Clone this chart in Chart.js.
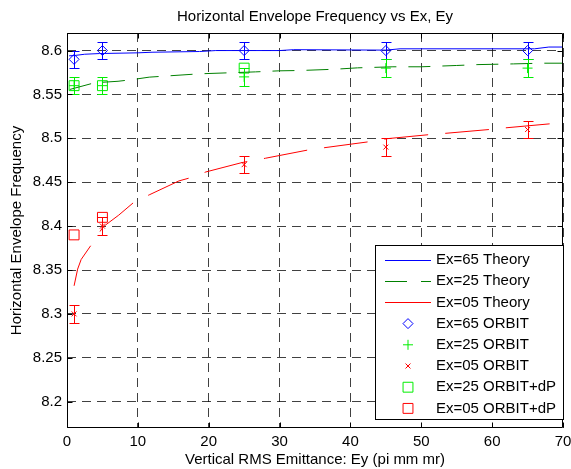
<!DOCTYPE html>
<html>
<head>
<meta charset="utf-8">
<script src="https://cdn.jsdelivr.net/npm/chart.js@4.4.1/dist/chart.umd.min.js"></script>
<style>
  html, body { margin: 0; padding: 0; background: #fff; }
  #wrap { width: 571px; height: 469px; }
</style>
</head>
<body>
<div id="wrap"><canvas id="myChart"></canvas></div>
<script>
// ORBIT runs
const eyOrbit = [1, 5, 25, 45, 65];
const orbit65 = [8.59, 8.60, 8.60, 8.60, 8.60];
const orbit25 = [8.56, 8.56, 8.57, 8.58, 8.58];
const orbit05 = [8.30, 8.40, 8.47, 8.49, 8.51];
const err65 = [0.01, 0.01, 0.01, 0.01, 0.01];
const err25 = [0.01, 0.01, 0.01, 0.01, 0.01];
const err05 = [0.01, 0.01, 0.01, 0.01, 0.01];

// ORBIT runs with momentum spread
const eyDp25 = [1, 5, 25];
const dp25 = [8.56, 8.56, 8.58];
const eyDp05 = [1, 5];
const dp05 = [8.39, 8.41];

// theory curves
const theory65X = [0.3, 1, 2.5, 4.6, 10, 12, 18.7, 21, 30, 32, 45, 47, 66, 68, 70];
const theory65Y = [8.594, 8.5943, 8.5958, 8.5966, 8.5974, 8.5981, 8.5989, 8.600, 8.600, 8.601, 8.6005, 8.602, 8.602, 8.604, 8.604];
const theory25X = [0.4, 3.9, 7.2, 9.3, 11.6, 18.7, 26.6, 29.9, 33, 38, 41, 46, 50, 55, 58, 63, 67, 70];
const theory25Y = [8.5557, 8.5633, 8.565, 8.567, 8.5697, 8.5735, 8.5757, 8.5769, 8.5773, 8.5788, 8.5803, 8.5815, 8.5815, 8.583, 8.584, 8.5848, 8.5856, 8.5856];
const theory05X = [1, 1.5, 2, 3.5, 5.1, 7.3, 9.5, 11.6, 15.8, 17.5, 19.6, 24.7, 28, 34, 36.4, 42.7, 45.3, 51.1, 53.4, 59.8, 62.1, 68.4];
const theory05Y = [8.332, 8.351, 8.362, 8.3795, 8.3992, 8.4125, 8.4276, 8.4356, 8.4515, 8.4553, 8.4617, 8.4724, 8.4773, 8.4867, 8.4894, 8.4962, 8.4997, 8.5042, 8.5057, 8.5102, 8.5121, 8.5167];

const xTicks = [0, 10, 20, 30, 40, 50, 60, 70];
const yTicks = [8.2, 8.25, 8.3, 8.35, 8.4, 8.45, 8.5, 8.55, 8.6];

const legendLabels = ['Ex=65 Theory', 'Ex=25 Theory', 'Ex=05 Theory', 'Ex=65 ORBIT', 'Ex=25 ORBIT', 'Ex=05 ORBIT', 'Ex=25 ORBIT+dP', 'Ex=05 ORBIT+dP'];

const pts = (xs, ys) => xs.map((x, i) => ({ x: x, y: ys[i] }));
const fontFamily = "'Liberation Sans', Arial, Helvetica, sans-serif";
const font15 = { family: fontFamily, size: 15, weight: 'normal' };

function lineSet(label, xs, ys, color, dash, legendDash) {
    return {
        label: label, data: pts(xs, ys), showLine: true,
        borderColor: color, borderWidth: 1, borderDash: dash, legendDash: legendDash,
        pointRadius: 0, tension: 0, fill: false
    };
}
function markerSet(label, xs, ys, color, style, radius, errs) {
    return {
        label: label, data: pts(xs, ys), showLine: false,
        borderColor: color, backgroundColor: 'rgba(0,0,0,0)',
        pointStyle: style, pointRadius: radius, pointBorderWidth: 1,
        pointBorderColor: color, pointBackgroundColor: 'rgba(0,0,0,0)',
        errorBars: errs
    };
}

// vertical error bars with caps
const errorBarPlugin = {
    id: 'errorBars',
    afterDatasetsDraw(chart) {
        const ctx = chart.ctx, xs = chart.scales.x, ys = chart.scales.y;
        chart.data.datasets.forEach(ds => {
            if (!ds.errorBars) return;
            ctx.save();
            ctx.strokeStyle = ds.borderColor;
            ctx.lineWidth = 1;
            ds.data.forEach((p, i) => {
                const e = ds.errorBars[i];
                const px = Math.round(xs.getPixelForValue(p.x)) + 0.5;
                const top = Math.round(ys.getPixelForValue(p.y + e)) + 0.5;
                const bot = Math.round(ys.getPixelForValue(p.y - e)) + 0.5;
                ctx.beginPath();
                ctx.moveTo(px, top); ctx.lineTo(px, bot);
                ctx.moveTo(px - 5, top); ctx.lineTo(px + 5, top);
                ctx.moveTo(px - 5, bot); ctx.lineTo(px + 5, bot);
                ctx.stroke();
            });
            ctx.restore();
        });
    }
};

// axes box, inward ticks and the legend panel
const boxLegendPlugin = {
    id: 'boxLegend',
    afterDraw(chart) {
        const ctx = chart.ctx, a = chart.chartArea;
        const xs = chart.scales.x, ys = chart.scales.y;
        const L = Math.round(a.left) + 0.5, R = Math.round(a.right) - 0.5;
        const T = Math.round(a.top) + 0.5, B = Math.round(a.bottom) - 0.5;
        ctx.save();
        ctx.strokeStyle = '#000';
        ctx.lineWidth = 1;
        ctx.beginPath();
        ctx.rect(L, T, R - L, B - T);
        xTicks.forEach(v => {
            const px = Math.round(xs.getPixelForValue(v)) + 0.5;
            ctx.moveTo(px, B); ctx.lineTo(px, B - 5);
            ctx.moveTo(px, T); ctx.lineTo(px, T + 5);
        });
        yTicks.forEach(v => {
            const py = Math.round(ys.getPixelForValue(v)) + 0.5;
            ctx.moveTo(L, py); ctx.lineTo(L + 5, py);
            ctx.moveTo(R, py); ctx.lineTo(R - 5, py);
        });
        ctx.stroke();

        // legend
        const lx = 375.5, ly = 245.5, lw = 188, lh = 174;
        ctx.fillStyle = '#fff';
        ctx.fillRect(lx, ly, lw, lh);
        ctx.strokeRect(lx, ly, lw, lh);
        ctx.font = '15px ' + fontFamily;
        ctx.textBaseline = 'middle';
        ctx.textAlign = 'left';
        chart.data.datasets.forEach((ds, i) => {
            const cy = 260 + i * 21.2;
            ctx.save();
            ctx.strokeStyle = ds.borderColor;
            ctx.lineWidth = 1;
            if (ds.showLine) {
                ctx.setLineDash(ds.legendDash || []);
                ctx.beginPath();
                ctx.moveTo(385, Math.round(cy) + 0.5);
                ctx.lineTo(431, Math.round(cy) + 0.5);
                ctx.stroke();
            } else {
                ctx.fillStyle = 'rgba(0,0,0,0)';
                Chart.helpers.drawPoint(ctx, {
                    pointStyle: ds.pointStyle, radius: ds.pointRadius,
                    rotation: 0, borderWidth: 1
                }, 408, cy);
            }
            ctx.restore();
            ctx.fillStyle = '#000';
            ctx.fillText(legendLabels[i], 436, cy);
        });
        ctx.restore();
    }
};

const canvas = document.querySelector('#myChart');

new Chart(canvas, {
    type: 'scatter',
    data: {
        datasets: [
            lineSet(legendLabels[0], theory65X, theory65Y, '#0000ff', [], []),
            lineSet(legendLabels[1], theory25X, theory25Y, '#008000', [22, 12], [22, 14]),
            lineSet(legendLabels[2], theory05X, theory05Y, '#ff0000', [44, 17], []),
            markerSet(legendLabels[3], eyOrbit, orbit65, '#0000ff', 'rectRot', 5, err65),
            markerSet(legendLabels[4], eyOrbit, orbit25, '#00ee00', 'cross', 5, err25),
            markerSet(legendLabels[5], eyOrbit, orbit05, '#ff0000', 'crossRot', 3.5, err05),
            markerSet(legendLabels[6], eyDp25, dp25, '#00ee00', 'rect', 7, null),
            markerSet(legendLabels[7], eyDp05, dp05, '#ff0000', 'rect', 7, null)
        ]
    },
    options: {
        responsive: true,
        maintainAspectRatio: false,
        animation: false,
        layout: { padding: { left: 0, right: 4, top: 0, bottom: 0 } },
        plugins: {
            legend: { display: false },
            tooltip: { enabled: false },
            title: {
                display: true,
                fullSize: false,
                text: 'Horizontal Envelope Frequency vs Ex, Ey',
                color: '#000',
                font: font15,
                padding: { top: 8, bottom: 7 }
            }
        },
        scales: {
            x: {
                type: 'linear',
                min: 0,
                max: 70,
                afterBuildTicks: s => { s.ticks = xTicks.map(v => ({ value: v })); },
                afterFit: s => { s.height = 41; s.paddingLeft = 0; s.paddingRight = 0; },
                grid: { color: 'rgba(0,0,0,0.75)', drawTicks: false },
                border: { display: false, dash: [9, 6] },
                ticks: { color: '#000', font: font15, padding: 5, maxRotation: 0, autoSkip: false },
                title: {
                    display: true,
                    text: 'Vertical RMS Emittance: Ey (pi mm mr)',
                    color: '#000',
                    font: font15,
                    padding: { top: 0, bottom: 0 }
                }
            },
            y: {
                type: 'linear',
                min: 8.17,
                max: 8.62,
                afterBuildTicks: s => { s.ticks = yTicks.map(v => ({ value: v })); },
                afterFit: s => { s.width = 67; s.paddingTop = 0; s.paddingBottom = 0; },
                grid: { color: 'rgba(0,0,0,0.75)', drawTicks: false },
                border: { display: false, dash: [9, 6] },
                ticks: {
                    color: '#000', font: font15, padding: 5, autoSkip: false,
                    callback: v => String(Number(v.toFixed(2)))
                },
                title: {
                    display: true,
                    text: 'Horizontal Envelope Frequency',
                    color: '#000',
                    font: font15,
                    padding: { top: 8, bottom: 0 }
                }
            }
        }
    },
    plugins: [errorBarPlugin, boxLegendPlugin]
});
</script>
</body>
</html>
